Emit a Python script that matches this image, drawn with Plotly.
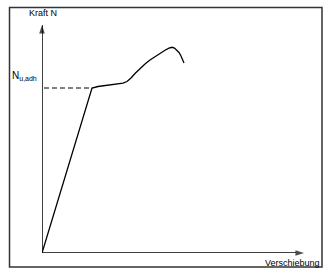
import plotly.graph_objects as go

# Data (arbitrary units: displacement vs force)
verschiebung = [0, 50, 56, 63, 70, 76, 81, 85, 89, 93, 98, 103, 108, 113, 118,
                123, 127, 130, 132.5, 135, 137, 139, 140.8, 142]
kraft = [0, 165, 166.5, 167.3, 167.8, 168.5, 169.8, 171.5, 175, 179.5, 184.5,
         189, 193, 196.5, 199.8, 202.8, 204.8, 205.7, 205, 203, 200.5, 197,
         193.5, 190]
n_u_adh = 165
dash_x = [2, 50]
x_max = 265
y_max = 231

fig = go.Figure()
# axes with arrowheads
arrow_marker = dict(symbol=["circle", "arrow"], size=[0, 9], angleref="previous",
                    color="black", line=dict(width=0))
fig.add_trace(go.Scatter(x=[0, x_max - 3], y=[0, 0], mode="lines+markers",
                         line=dict(color="black", width=1.5), marker=arrow_marker,
                         hoverinfo="skip", showlegend=False, cliponaxis=False))
fig.add_trace(go.Scatter(x=[0, 0], y=[0, y_max - 3], mode="lines+markers",
                         line=dict(color="black", width=1.5), marker=arrow_marker,
                         hoverinfo="skip", showlegend=False, cliponaxis=False))
fig.add_trace(go.Scatter(x=dash_x, y=[n_u_adh, n_u_adh], mode="lines",
                         line=dict(color="black", width=1, dash="5px,3px"),
                         hoverinfo="skip", showlegend=False))
fig.add_trace(go.Scatter(x=verschiebung, y=kraft, mode="lines",
                         line=dict(color="black", width=1.3),
                         hoverinfo="skip", showlegend=False))

font = dict(family="Liberation Sans, Arial, sans-serif", size=9, color="black")
font_n = dict(family="Liberation Sans, Arial, sans-serif", size=10, color="black")
ann = [
    dict(x=0.002, y=1.039, xref="paper", yref="paper", text="Kraft N",
         showarrow=False, xanchor="center", yanchor="middle", font=font),
    dict(x=1.058, y=-0.043, xref="paper", yref="paper", text="Verschiebung",
         showarrow=False, xanchor="right", yanchor="middle", font=font),
    dict(x=-0.1226, y=0.768, xref="paper", yref="paper",
         text="N<sub>u,adh</sub>",
         showarrow=False, xanchor="left", yanchor="middle", font=font_n),
]

fig.update_layout(
    width=336, height=277,
    margin=dict(l=42, r=29, t=22, b=24),
    paper_bgcolor="white", plot_bgcolor="white",
    xaxis=dict(range=[0, x_max], visible=False, fixedrange=True),
    yaxis=dict(range=[0, y_max], visible=False, fixedrange=True),
    annotations=ann,
    shapes=[dict(type="rect", xref="paper", yref="paper", x0=-0.1226,
                 x1=1.0566, y0=-0.0606, y1=1.0628,
                 line=dict(color="#333", width=1.5), layer="below")],
)

fig.write_html("out.html")
